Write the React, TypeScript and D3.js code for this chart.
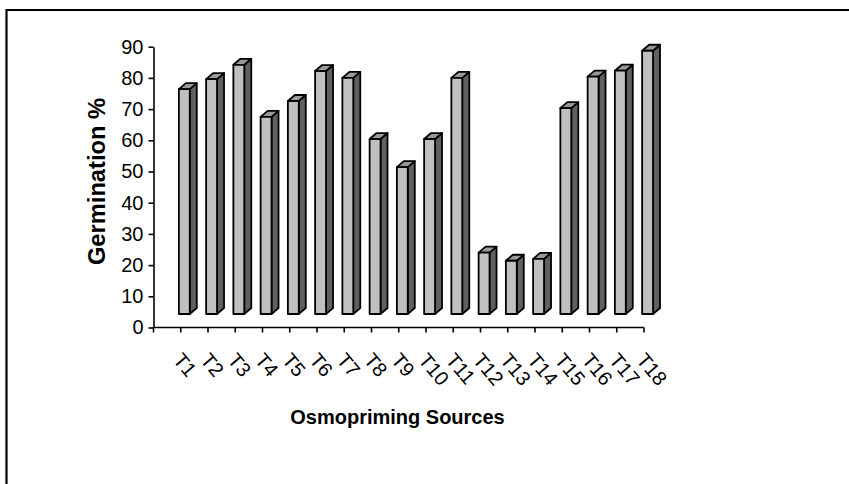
import { useRef, useEffect } from 'react';
import * as d3 from 'd3';

const categories = ['T1', 'T2', 'T3', 'T4', 'T5', 'T6', 'T7', 'T8', 'T9', 'T10', 'T11', 'T12', 'T13', 'T14', 'T15', 'T16', 'T17', 'T18'];
const germination = [76.4, 79.6, 84.2, 67.5, 72.6, 82.2, 80, 60.4, 51.4, 60.4, 80, 24, 21.4, 22, 70.3, 80.4, 82.3, 88.7];
const yTicks = [0, 10, 20, 30, 40, 50, 60, 70, 80, 90];

const width = 849;
const height = 484;
const font = '"Liberation Sans", Arial, sans-serif';

export default function App() {
  const svgRef = useRef<SVGSVGElement>(null);

  useEffect(() => {
    if (!svgRef.current) return;
    const svg = d3.select(svgRef.current);
    svg.selectAll('*').remove();

    const x = d3.scaleBand<string>().domain(categories).range([153.5, 644]).paddingInner(0.6).paddingOuter(0.3);
    const y = d3.scaleLinear().domain([0, 90]).range([327.5, 46.7]);

    // Frame: only top and left edges are visible in the source
    svg.append('path')
      .attr('d', `M6.5,${height}V10H${width}`)
      .attr('fill', 'none')
      .attr('stroke', '#000')
      .attr('stroke-width', 2.2);

    // Fake 3D offsets, bars float above and to the right of the axis
    const shiftX = 17.2;
    const shiftY = 13.5;
    const depthX = 7;
    const depthY = 6;
    const bw = x.bandwidth();

    const bars = svg.append('g')
      .attr('stroke', '#000')
      .attr('stroke-width', 1.8)
      .attr('stroke-linejoin', 'round')
      .selectAll('g')
      .data(categories.map((c, i) => ({ c, v: germination[i] })))
      .enter()
      .append('g');

    const left = (d: { c: string }) => (x(d.c) || 0) + shiftX;
    const base = y(0) - shiftY;

    // Side
    bars.append('path')
      .attr('fill', '#606060')
      .attr('d', (d) => {
        const r = left(d) + bw;
        return `M${r},${y(d.v)}l${depthX},${-depthY}V${base - depthY}L${r},${base}Z`;
      });

    // Top
    bars.append('path')
      .attr('fill', '#999999')
      .attr('d', (d) => `M${left(d)},${y(d.v)}l${depthX},${-depthY}h${bw}l${-depthX},${depthY}Z`);

    // Front
    bars.append('rect')
      .attr('fill', '#c0c0c0')
      .attr('x', left)
      .attr('y', (d) => y(d.v))
      .attr('width', bw)
      .attr('height', (d) => base - y(d.v));

    // Y axis
    const yAxis = svg.append('g')
      .attr('transform', 'translate(153.5,0)')
      .call(d3.axisLeft(y).tickValues(yTicks).tickSize(5).tickSizeOuter(0).tickPadding(5));
    yAxis.select('.domain').attr('stroke', '#000').attr('stroke-width', 1.6);
    yAxis.selectAll('.tick line').attr('stroke', '#000').attr('stroke-width', 1.6);
    yAxis.selectAll('.tick text')
      .attr('fill', '#000')
      .attr('font-family', font)
      .attr('font-size', '20px');

    // X axis, ticks sit on band edges
    const step = x.step();
    const edges = d3.range(categories.length + 1).map((i) => 153.5 + i * step);
    const xAxisLine = svg.append('g');
    xAxisLine.append('line')
      .attr('x1', 153.5).attr('x2', 644).attr('y1', y(0)).attr('y2', y(0))
      .attr('stroke', '#000').attr('stroke-width', 1.6);
    xAxisLine.selectAll('.edge')
      .data(edges)
      .enter()
      .append('line')
      .attr('class', 'edge')
      .attr('x1', (d) => d).attr('x2', (d) => d)
      .attr('y1', y(0)).attr('y2', y(0) + 5)
      .attr('stroke', '#000').attr('stroke-width', 1.6);

    // Rotated category labels
    svg.append('g')
      .selectAll('text')
      .data(categories)
      .enter()
      .append('text')
      .attr('font-family', font)
      .attr('font-size', '20px')
      .attr('fill', '#000')
      .attr('transform', (d) => {
        const cx = (x(d) || 0) + bw / 2 + 5;
        return `translate(${cx},360.5) rotate(50)`;
      })
      .text((d) => d);

    // Axis titles
    svg.append('text')
      .attr('x', 397.5)
      .attr('y', 424)
      .attr('text-anchor', 'middle')
      .attr('font-family', font)
      .attr('font-weight', 'bold')
      .attr('font-size', '20px')
      .text('Osmopriming Sources');

    svg.append('text')
      .attr('transform', 'translate(105,181.5) rotate(-90)')
      .attr('text-anchor', 'middle')
      .attr('font-family', font)
      .attr('font-weight', 'bold')
      .attr('font-size', '23.7px')
      .text('Germination %');
  }, []);

  return (
    <svg
      ref={svgRef}
      width={width}
      height={height}
      style={{ position: 'absolute', left: 0, top: 0, background: '#fff' }}
    />
  );
}
